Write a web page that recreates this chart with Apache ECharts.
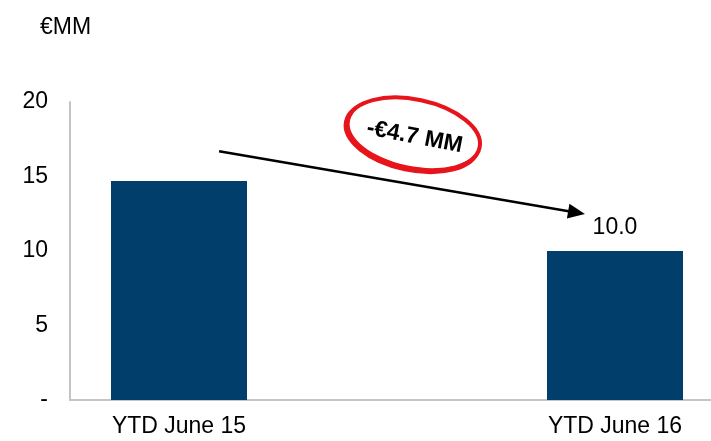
<!DOCTYPE html>
<html><head><meta charset="utf-8">
<script src="https://cdn.jsdelivr.net/npm/echarts@6/dist/echarts.min.js"></script>
<style>html,body{margin:0;padding:0;background:#fff}#c{width:711px;height:441px}</style>
</head><body><div id="c"></div>
<script>
// ---- data ----
const categories = ['YTD June 15', 'YTD June 16'];
const values = [14.7, 10.0];
const labelledBars = [false, true];
const yTickLabels = ['-', '5', '10', '15', '20'];
const unitLabel = '€MM';
const changeLabel = '-€4.7 MM';
// annotation anchors in data space: [category position, value]
const arrowFrom = [0.092, 16.7];
const arrowTo = [0.931, 12.48];
const badgeAt = [0.538, 17.85];

const FONT = '"Liberation Sans", Arial, sans-serif';
const chart = echarts.init(document.getElementById('c'));
chart.setOption({
  animation: false,
  title: { text: unitLabel, left: 35, top: 11, textStyle: { fontFamily: FONT, fontSize: 23, fontWeight: 'normal', color: '#000' } },
  grid: [
    { left: 70, right: 0, top: 102, bottom: 41 },
    { left: 179, right: 96, top: 102, bottom: 41 }
  ],
  xAxis: [
    { type: 'category', gridIndex: 0, data: categories, axisLine: { lineStyle: { color: '#c4c4c4', width: 2 } }, axisTick: { show: false }, axisLabel: { show: false } },
    { type: 'category', gridIndex: 1, data: categories, boundaryGap: false, axisLine: { show: false }, axisTick: { show: false },
      axisLabel: { margin: 15, fontFamily: FONT, fontSize: 23, color: '#000' } }
  ],
  yAxis: [
    { type: 'value', gridIndex: 0, min: 0, max: 20, interval: 5, splitLine: { show: false }, axisTick: { show: false },
      axisLine: { show: true, lineStyle: { color: '#c4c4c4', width: 2 } },
      axisLabel: { margin: 22, fontFamily: FONT, fontSize: 23, color: '#000', formatter: v => yTickLabels[Math.round(v / 5)] } },
    { type: 'value', gridIndex: 1, min: 0, max: 20, interval: 5, show: false }
  ],
  series: [{
    type: 'bar', xAxisIndex: 1, yAxisIndex: 1, data: values, barWidth: 136, clip: false,
    itemStyle: { color: '#023e6b' },
    label: { show: true, position: 'top', distance: 12, fontFamily: FONT, fontSize: 23, color: '#000',
      formatter: p => labelledBars[p.dataIndex] ? p.value.toFixed(1) : '' }
  }]
});

function toPx(pt) {
  const a = chart.convertToPixel({ xAxisIndex: 1, yAxisIndex: 1 }, [0, pt[1]]);
  const b = chart.convertToPixel({ xAxisIndex: 1, yAxisIndex: 1 }, [1, pt[1]]);
  return [a[0] + pt[0] * (b[0] - a[0]), a[1]];
}
const p0 = toPx(arrowFrom), p1 = toPx(arrowTo), c = toPx(badgeAt);
const dx = p1[0] - p0[0], dy = p1[1] - p0[1], len = Math.hypot(dx, dy);
const ux = dx / len, uy = dy / len, headL = 17, headW = 7.5;
const bx = p1[0] - ux * headL, by = p1[1] - uy * headL;
const rot = -12 * Math.PI / 180;
chart.setOption({
  graphic: [
    { type: 'line', shape: { x1: p0[0], y1: p0[1], x2: bx + ux * 2, y2: by + uy * 2 }, style: { stroke: '#000', lineWidth: 2.5 }, z: 10 },
    { type: 'polygon', shape: { points: [[p1[0], p1[1]], [bx - uy * headW, by + ux * headW], [bx + uy * headW, by - ux * headW]] }, style: { fill: '#000' }, z: 10 },
    { type: 'ellipse', x: c[0] - 1.5, y: c[1] + 1.5, rotation: rot, shape: { cx: 0, cy: 0, rx: 67, ry: 34 }, style: { fill: '#fff', stroke: '#e8141c', lineWidth: 5 }, z: 11 },
    { type: 'ellipse', x: c[0] + 0.5, y: c[1] - 0.5, rotation: rot, shape: { cx: 0, cy: 0, rx: 67, ry: 34 }, style: { fill: '#fff', stroke: '#e8141c', lineWidth: 4 }, z: 11 },
    { type: 'ellipse', x: c[0] - 0.5, y: c[1] + 0.5, rotation: rot, shape: { cx: 0, cy: 0, rx: 64.5, ry: 31.5 }, style: { fill: '#fff' }, z: 11 },
    { type: 'text', x: c[0] + 1, y: c[1] + 3, rotation: -11 * Math.PI / 180,
      style: { text: changeLabel, font: 'bold 23px ' + FONT, fill: '#000', align: 'center', verticalAlign: 'middle', textAlign: 'center', textVerticalAlign: 'middle' }, z: 12 }
  ]
});
</script></body></html>
